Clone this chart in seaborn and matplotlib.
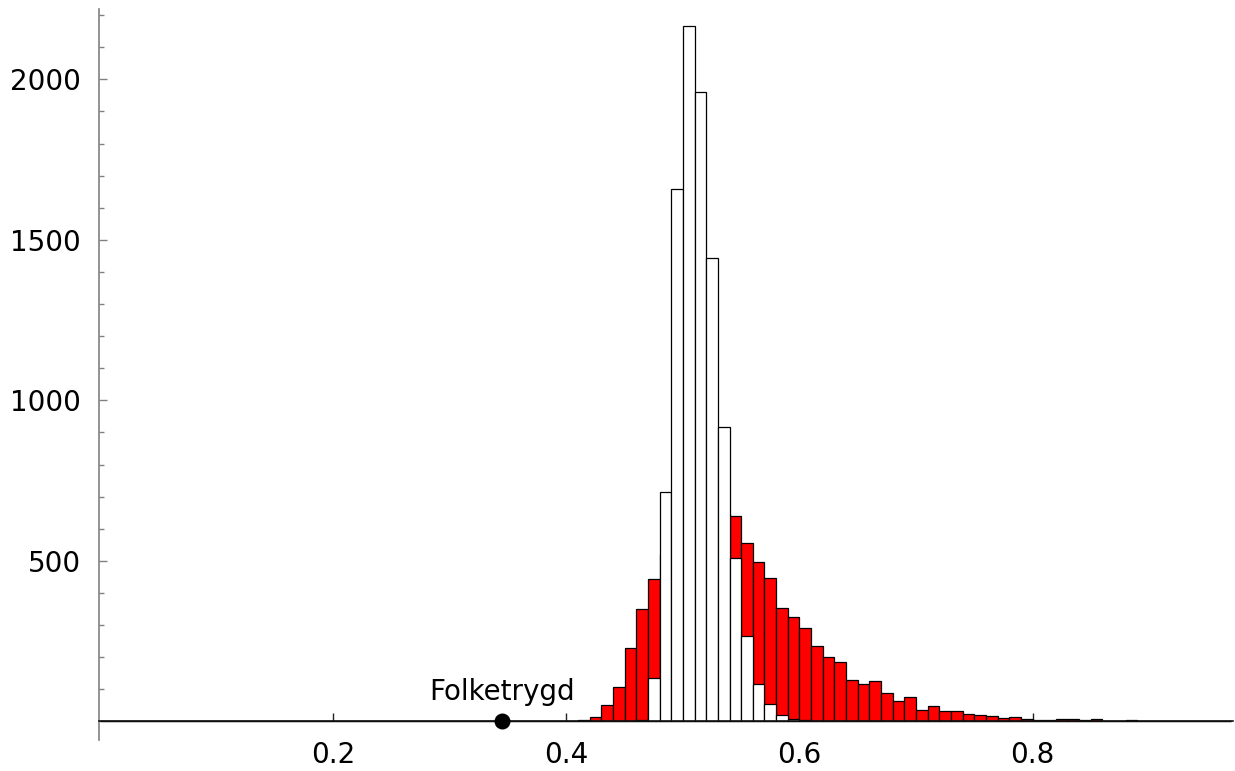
import numpy as np
import pandas as pd
import matplotlib
matplotlib.use('Agg')
import matplotlib.pyplot as plt
import seaborn as sns
from matplotlib.ticker import FixedLocator

# Histogram counts per 0.01 bin
BIN_WIDTH = 0.01

# wide distribution (red), first bin starts at 0.41
red_start  = 0.41
red_counts = [3, 14, 50, 108, 230, 351, 444, 520, 575, 610,
              630, 640, 645, 641, 555, 495, 448, 354, 324, 292,
              235, 202, 186, 130, 117, 126, 88, 65, 77, 35,
              47, 32, 33, 22, 20, 16, 12, 15, 6, 5,
              4, 8, 6, 5, 7, 2, 2, 4, 2, 2,
              1, 1, 2, 1, 2]

# narrow distribution (white), first bin starts at 0.46
white_start  = 0.46
white_counts = [4, 135, 714, 1660, 2165, 1960, 1443, 918, 510, 266,
                115, 55, 20, 6, 3, 1]

marker_x     = 0.345
marker_label = 'Folketrygd'

x_ticks = [0.2, 0.4, 0.6, 0.8]
y_ticks = [500, 1000, 1500, 2000]


def to_frame(start, counts):
    idx = np.arange(len(counts))
    centers = np.round(start + BIN_WIDTH * idx, 2) + BIN_WIDTH / 2
    return pd.DataFrame({'x': centers, 'count': counts})


red_df   = to_frame(red_start, red_counts)
white_df = to_frame(white_start, white_counts)
edges    = [round(e, 2) for e in np.arange(0.0, 0.9701, BIN_WIDTH)]

sns.set_style('white')
plt.rcParams['font.family'] = ['DejaVu Sans']
plt.rcParams['text.color'] = 'black'

fig = plt.figure(figsize=(12.35, 7.71), dpi=100)
ax = fig.add_axes([99 / 1235, 31 / 771, (1233 - 99) / 1235, (740 - 9.4) / 771])

# red first, white drawn on top of it
sns.histplot(data=red_df, x='x', weights='count', bins=edges, ax=ax,
             stat='count', element='bars', fill=True,
             facecolor='#ff0000', edgecolor='black', linewidth=0.9, alpha=1)
sns.histplot(data=white_df, x='x', weights='count', bins=edges, ax=ax,
             stat='count', element='bars', fill=True,
             facecolor='white', edgecolor='black', linewidth=0.9, alpha=1)

# Folketrygd point
ax.plot([marker_x], [0], 'o', color='black', markersize=10.5, zorder=5,
        clip_on=False)
ax.text(marker_x, 67, marker_label, ha='center', va='baseline',
        fontsize=20, color='black')

# Axes in the Mathematica look
ax.set_xlim(-0.001, 0.972)
ax.set_ylim(-58, 2218)
ax.set_xlabel('')
ax.set_ylabel('')

for side in ['top', 'right']:
    ax.spines[side].set_visible(False)
ax.spines['bottom'].set_position(('data', 0))
ax.spines['bottom'].set_color('#111111')
ax.spines['bottom'].set_linewidth(1.2)
ax.spines['left'].set_color('#808080')
ax.spines['left'].set_linewidth(1.2)

ax.xaxis.set_major_locator(FixedLocator(x_ticks))
ax.set_xticklabels([f'{t:.1f}' for t in x_ticks])
ax.yaxis.set_major_locator(FixedLocator(y_ticks))
ax.set_yticklabels([str(t) for t in y_ticks])
ax.yaxis.set_minor_locator(FixedLocator(
    [v for v in range(100, 2201, 100) if v % 500 != 0]))

ax.tick_params(axis='x', which='major', direction='in', length=6, width=1,
               color='#222222', pad=14, labelsize=20, labelcolor='black',
               bottom=True)
ax.tick_params(axis='y', which='major', direction='in', length=5.5, width=1,
               color='#808080', pad=13, labelsize=20, labelcolor='black',
               left=True)
ax.tick_params(axis='y', which='minor', direction='in', length=3.5, width=1,
               color='#808080', left=True)

fig.savefig('out.png', dpi=100)
